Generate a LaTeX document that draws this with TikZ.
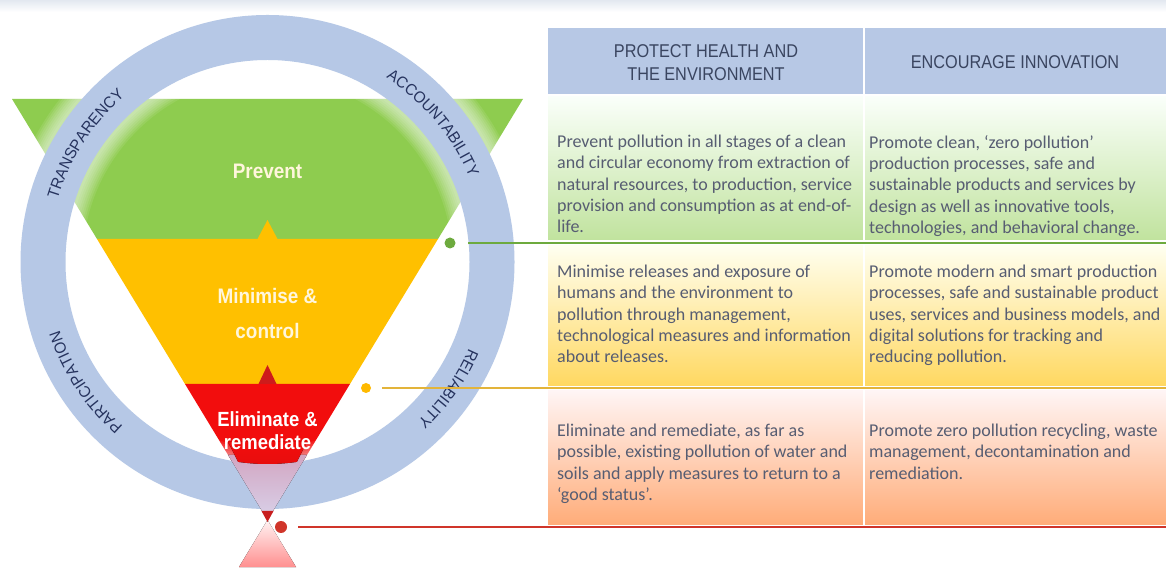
\documentclass[tikz,border=0pt]{standalone}
\usepackage{fontspec}
\setmainfont{Carlito}
\newfontfamily\hdrfont[FakeStretch=0.88]{Liberation Sans}
\newfontfamily\lblfont[FakeStretch=0.9]{Liberation Sans}
\newfontfamily\ringfam[FakeStretch=0.95]{Liberation Sans}
\usetikzlibrary{calc,decorations.text}
\definecolor{ringblue}{HTML}{B6C8E6}
\definecolor{ringtext}{HTML}{26335E}
\definecolor{fungreen}{HTML}{8ECC4F}
\definecolor{funyellow}{HTML}{FFC000}
\definecolor{funred}{HTML}{F20D0D}
\definecolor{darkred}{HTML}{C81E1E}
\definecolor{pinklav}{HTML}{D2A6C2}
\definecolor{lavlight}{HTML}{D9D2EA}
\definecolor{hdrblue}{HTML}{B7C8E5}
\definecolor{hdrtext}{HTML}{3A4560}
\definecolor{bodytext}{HTML}{575D72}
\definecolor{gline}{HTML}{6DAA3E}
\definecolor{yline}{HTML}{E3B43A}
\definecolor{rline}{HTML}{D0352A}
\definecolor{topgray}{HTML}{E3E8F0}
\definecolor{lbltext}{HTML}{FFF6DC}
\begin{document}
\begin{tikzpicture}[x=1pt,y=1pt,
  bodytxt/.style={font=\fontsize{18}{21.3}\selectfont, text=bodytext, align=left, anchor=north west, inner sep=0pt},
  hdrtxt/.style={font=\hdrfont\fontsize{18.5}{23}\selectfont, text=hdrtext, align=center, inner sep=0pt},
  lbltxt/.style={font=\lblfont\bfseries\fontsize{21}{35}\selectfont, text=lbltext, align=center, inner sep=0pt},
  elimtxt/.style={font=\lblfont\bfseries\fontsize{20.5}{23}\selectfont, text=white, align=center, inner sep=0pt},
  dotnode/.style={circle, inner sep=0pt, minimum size=#1},
  ringlabel/.style={decorate, decoration={text along path, text={|\ringfam\fontsize{16}{16}\selectfont|#1}, text align=center, text color=ringtext}},
  connector/.style={line width=2.8pt, shorten <=#1}
]
\useasboundingbox (0,0) rectangle (1166,567);
\fill[white] (0,0) rectangle (1166,567);

% ---------------- table ----------------
\fill[hdrblue] (548,473) rectangle (1166,539);
\fill[top color=white!60!green!5, bottom color=fungreen!55] (548,327) rectangle (1166,470);
\fill[top color=yellow!6, bottom color=funyellow!62] (548,181) rectangle (1166,321);
\fill[top color=red!4, bottom color=orange!45!pink!90] (548,42) rectangle (1166,176);
\draw[white, line width=1.5pt] (864,42) -- (864,539);

\node[hdrtxt] (h1) at (706,504) {PROTECT HEALTH AND\\THE ENVIRONMENT};
\node[hdrtxt] (h2) at (1015,505) {ENCOURAGE INNOVATION};

\node[bodytxt] (t11) at (557,432) {Prevent pollution in all stages of a clean\\and circular economy from extraction of\\natural resources, to production, service\\provision and consumption as at end-of-\\life.};
\node[bodytxt] (t12) at (869,432) {Promote clean, ‘zero pollution’\\production processes, safe and\\sustainable products and services by\\design as well as innovative tools,\\technologies, and behavioral change.};
\node[bodytxt] (t21) at (557,302) {Minimise releases and exposure of\\humans and the environment to\\pollution through management,\\technological measures and information\\about releases.};
\node[bodytxt] (t22) at (869,302) {Promote modern and smart production\\processes, safe and sustainable product\\uses, services and business models, and\\digital solutions for tracking and\\reducing pollution.};
\node[bodytxt] (t31) at (557,143) {Eliminate and remediate, as far as\\possible, existing pollution of water and\\soils and apply measures to return to a\\‘good status’.};
\node[bodytxt] (t32) at (869,143) {Promote zero pollution recycling, waste\\management, decontamination and\\remediation.};

% ---------------- funnel ----------------
\coordinate (C) at (267.5,305);
\fill[fungreen] (12,468) -- (523,468) -- (438,328) -- (97,328) -- cycle;
\fill[funyellow] (97,328) -- (438,328) -- (350,183) -- (185,183) -- cycle;
\fill[funred] (185,183) -- (350,183) -- (267.5,47) -- cycle;

% soft glow around the ring
\foreach \w in {79,75,71,67,63,59,55,51} {
  \draw[white, opacity=0.09, line width=\w pt] (C) circle (224.5);
}
% ring
\fill[ringblue, even odd rule] (C) circle (247) (C) circle (202);
% funnel seen through the ring at the bottom
\fill[top color=pinklav, bottom color=lavlight] (228.1,112) -- (306.9,112) -- (267.5,47) -- cycle;
\begin{scope}
  \clip (C) circle (202);
  \fill[top color=funred, bottom color=funred!85!black] (228.1,125) -- (306.9,125) -- (267.5,47) -- cycle;
\end{scope}
% lower (upright) triangle
\fill[top color=red!5, bottom color=red!25!pink] (267.5,47) -- (296,0) -- (239,0) -- cycle;
\fill[darkred] (261.5,56) -- (273.5,56) -- (267.5,45) -- cycle;

% ring labels
\path[ringlabel=TRANSPARENCY] ($(C)+(187:219)$) arc[start angle=187, end angle=107, radius=219];
\path[ringlabel=ACCOUNTABILITY] ($(C)+(82:219)$) arc[start angle=82, end angle=-2, radius=219];
\path[ringlabel=RELIABILITY] ($(C)+(5:219)$) arc[start angle=5, end angle=-75, radius=219];
\path[ringlabel=PARTICIPATION] ($(C)+(-106:219)$) arc[start angle=-106, end angle=-187, radius=219];

% small triangles between bands
\fill[funyellow] (257.5,328) -- (277.5,328) -- (267.5,347) -- cycle;
\fill[darkred!90!red] (258.5,183) -- (276.5,183) -- (267.5,202) -- cycle;

% funnel labels
\node[lbltxt] (prevent) at (267.5,396) {Prevent};
\node[lbltxt] (minimise) at (267.5,254) {Minimise \&\\control};
\node[elimtxt] (eliminate) at (267.5,136) {Eliminate \&\\remediate};

% dots and connectors
\node[dotnode=11pt, fill=gline] (gdot) at (450,324) {};
\node[dotnode=10pt, fill=funyellow!90!orange] (ydot) at (366,179) {};
\node[dotnode=12pt, fill=rline] (rdot) at (281,40) {};
\coordinate (gend) at (1166,324);
\coordinate (yend) at (1166,179);
\coordinate (rend) at (1166,40);
\draw[connector=12.5pt, gline] (gdot) -- (gend);
\draw[connector=11pt, yline] (ydot) -- (yend);
\draw[connector=11pt, rline] (rdot) -- (rend);

% faint top band
\fill[top color=topgray, bottom color=white] (0,555) rectangle (1166,567);
\end{tikzpicture}
\end{document}
